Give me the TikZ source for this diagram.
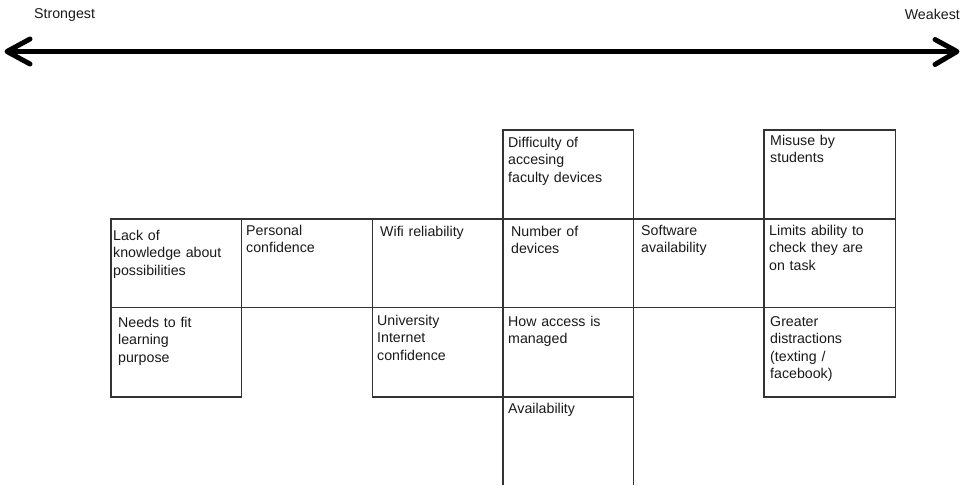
\documentclass[tikz,border=0pt]{standalone}
\usepackage{fontspec}
\setmainfont{Liberation Sans}
\usetikzlibrary{calc}
\begin{document}
\begin{tikzpicture}[x=1pt,y=-1pt,
  cell/.style={draw=black!80,line width=1.2pt},
  lbl/.style={anchor=base west,inner sep=0pt,text width=124pt,align=left,
    font=\fontsize{14.2}{17.5}\selectfont,text=black!90},
  endlbl/.style={inner sep=0pt,font=\fontsize{14.2}{17.5}\selectfont,text=black!90},
  axis/.style={line width=4.5pt,black},
  barb/.style={line width=5pt,line cap=round,line join=round,black}]
\useasboundingbox (0,0) rectangle (965,485);
% axis
\coordinate (L) at (7,51.5);
\coordinate (R) at (957,51.5);
\draw[axis] ($(L)+(4,0)$) -- ($(R)+(-4,0)$);
\draw[barb] ($(L)+(23,-12.5)$) -- (L) -- ($(L)+(23,12.5)$);
\draw[barb] ($(R)+(-22,-12)$) -- (R) -- ($(R)+(-22,13)$);
\node[endlbl,anchor=base west] (strong) at (34,18) {Strongest};
\node[endlbl,anchor=base east] (weak) at (960,19) {Weakest};
% grid coordinates
\def\xa{111}\def\xb{241.5}\def\xc{372.5}\def\xd{503}\def\xe{633.5}\def\xf{764}\def\xg{895.5}
\def\ya{130}\def\yb{219}\def\yc{307.5}\def\yd{397}\def\ye{485}
% row 0
\draw[cell] (\xd,\yb) rectangle (\xe,\ya);
\draw[cell] (\xf,\yb) rectangle (\xg,\ya);
% row 1
\draw[cell] (\xa,\yb) rectangle (\xb,\yc);
\draw[cell] (\xb,\yb) rectangle (\xc,\yc);
\draw[cell] (\xc,\yb) rectangle (\xd,\yc);
\draw[cell] (\xd,\yb) rectangle (\xe,\yc);
\draw[cell] (\xe,\yb) rectangle (\xf,\yc);
\draw[cell] (\xf,\yb) rectangle (\xg,\yc);
% row 2
\draw[cell] (\xa,\yc) rectangle (\xb,\yd);
\draw[cell] (\xc,\yc) rectangle (\xd,\yd);
\draw[cell] (\xd,\yc) rectangle (\xe,\yd);
\draw[cell] (\xf,\yc) rectangle (\xg,\yd);
% row 3 (open at bottom)
\draw[cell] (\xd,\ye) -- (\xd,\yd) -- (\xe,\yd) -- (\xe,\ye);
% labels
\node[lbl] (dif) at (508,147) {Difficulty of\\accesing\\faculty devices};
\node[lbl] (mis) at (770,145) {Misuse by\\students};
\node[lbl] (lack) at (113,240) {Lack of\\knowledge about\\possibilities};
\node[lbl] (pers) at (246,235) {Personal\\confidence};
\node[lbl] (wifi) at (380,236) {Wifi reliability};
\node[lbl] (num) at (511,236) {Number of\\devices};
\node[lbl] (soft) at (641,235) {Software\\availability};
\node[lbl] (lim) at (769,235) {Limits ability to\\check they are\\on task};
\node[lbl] (need) at (118,327) {Needs to fit\\learning\\purpose};
\node[lbl] (uni) at (377,325) {University\\Internet\\confidence};
\node[lbl] (how) at (508,326) {How access is\\managed};
\node[lbl] (grt) at (770,326) {Greater\\distractions\\(texting /\\facebook)};
\node[lbl] (avl) at (508,413) {Availability};
\end{tikzpicture}
\end{document}
